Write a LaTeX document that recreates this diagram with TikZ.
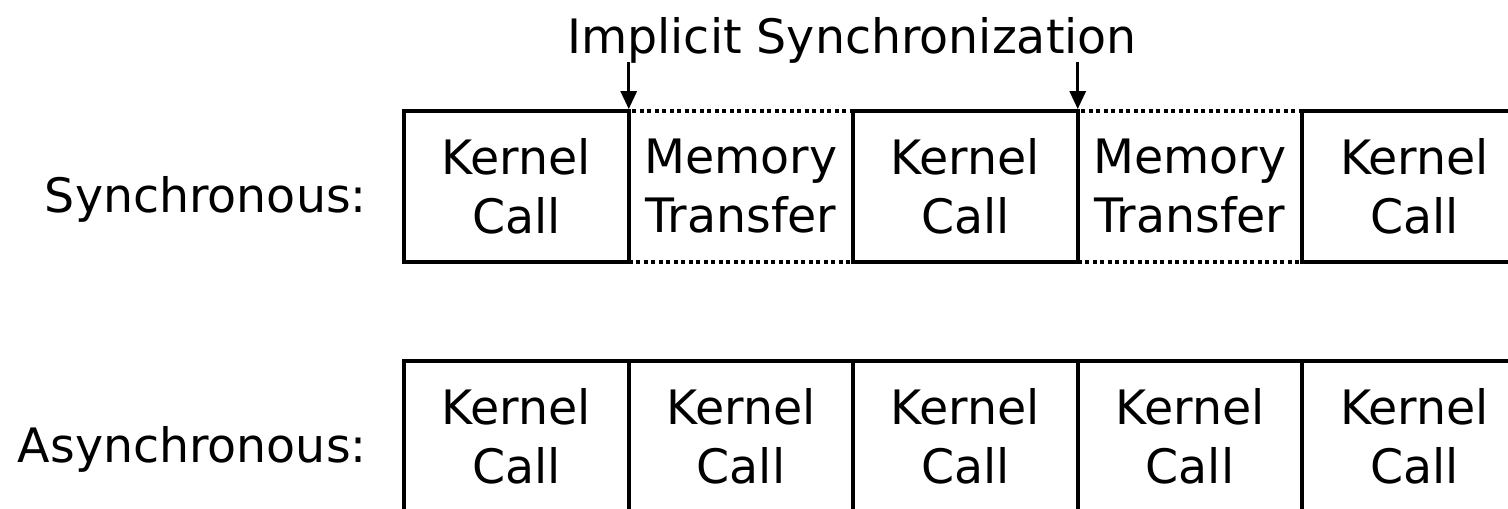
\documentclass[tikz,border=0pt]{standalone}
\usepackage{fontspec}
\setmainfont{DejaVu Sans}
\usetikzlibrary{arrows.meta}
\newcommand{\mysize}{\fontsize{27}{33.6}\selectfont}
\begin{document}
\begin{tikzpicture}[x=0.02cm,y=-0.02cm,
  cell/.style={line width=2.3pt, minimum width=4.49cm, minimum height=3.02cm,
    inner sep=0pt, outer sep=0pt, align=center, font=\mysize},
  kbox/.style={cell, draw},
  mbox/.style={cell, draw, dash pattern=on 0.08cm off 0.07cm},
  lbl/.style={anchor=base east, font=\mysize, inner sep=0pt},
  syncarrow/.style={line width=1.7pt, -{Triangle[width=0.32cm,length=0.36cm]}}
]
\clip (0,0) rectangle (1508,508);
% synchronous row
\node[mbox] (s2) at (741,186.5) {Memory\\Transfer};
\node[mbox] (s4) at (1190,186.5) {Memory\\Transfer};
\node[kbox] (s1) at (516.5,186.5) {Kernel\\Call};
\node[kbox] (s3) at (965.5,186.5) {Kernel\\Call};
\node[kbox] (s5) at (1414.5,186.5) {Kernel\\Call};
% asynchronous row
\node[kbox] (a1) at (516.5,436.5) {Kernel\\Call};
\node[kbox] (a2) at (741,436.5) {Kernel\\Call};
\node[kbox] (a3) at (965.5,436.5) {Kernel\\Call};
\node[kbox] (a4) at (1190,436.5) {Kernel\\Call};
\node[kbox] (a5) at (1414.5,436.5) {Kernel\\Call};
% labels
\node[lbl] (lsync) at (367,212) {Synchronous:};
\node[lbl] (lasync) at (367,462) {Asynchronous:};
\node[anchor=base, font=\mysize, inner sep=0pt] (title) at (852,53) {Implicit Synchronization};
% arrows
\coordinate (t1) at (s1.north east |- 0,62);
\coordinate (t2) at (s3.north east |- 0,62);
\draw[syncarrow] (t1) -- ([yshift=1.1pt]s1.north east);
\draw[syncarrow] (t2) -- ([yshift=1.1pt]s3.north east);
\end{tikzpicture}
\end{document}
